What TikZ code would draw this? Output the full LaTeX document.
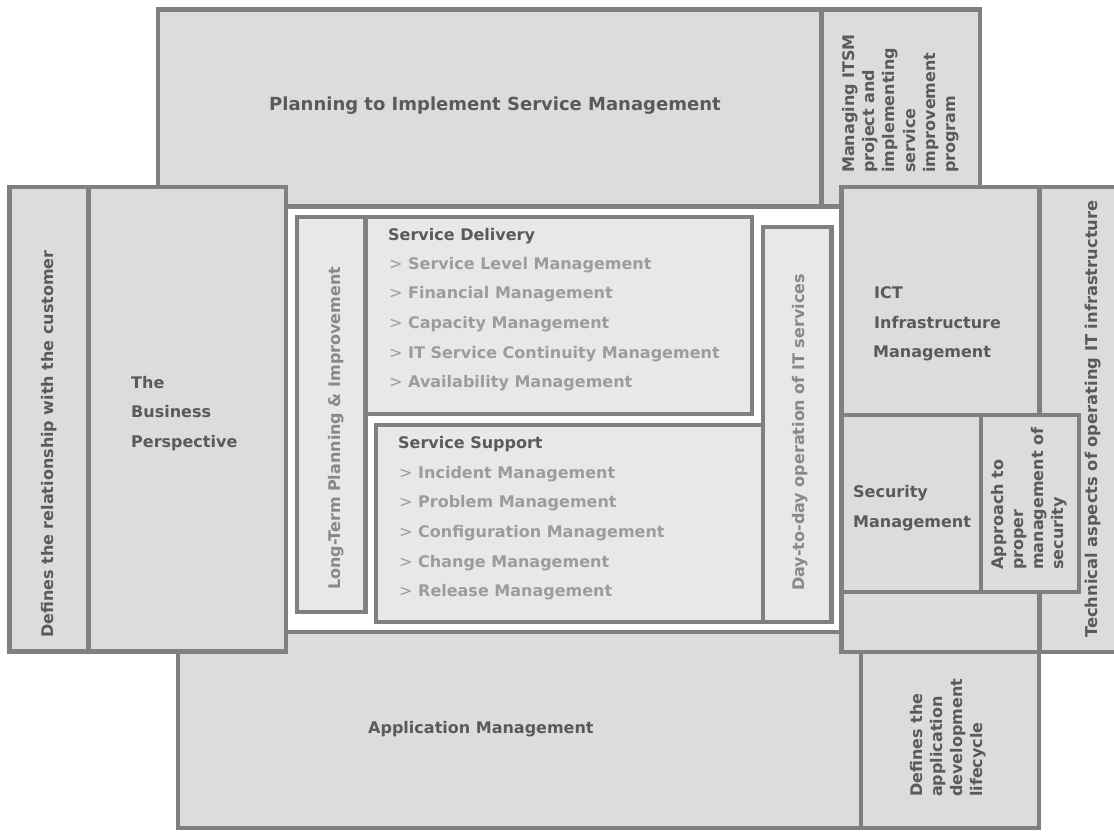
\documentclass[tikz,border=0pt]{standalone}
\usepackage{fontspec}
\setmainfont{DejaVu Sans}
\begin{document}
\definecolor{edge}{HTML}{808080}
\definecolor{outerfill}{HTML}{DCDCDC}
\definecolor{innerfill}{HTML}{E8E8E8}
\definecolor{headtext}{HTML}{5A5A5A}
\definecolor{itemtext}{HTML}{9C9C9C}
\definecolor{sidetext}{HTML}{888888}
\begin{tikzpicture}[x=1pt,y=-1pt,
  outerbox/.style={draw=edge,fill=outerfill,line width=4.5pt},
  innerbox/.style={draw=edge,fill=innerfill,line width=4.5pt},
  lbl/.style={inner sep=0pt,anchor=base west,font=\fontsize{16}{20}\selectfont\bfseries},
  head/.style={lbl,text=headtext},
  item/.style={lbl,text=itemtext},
  side/.style={lbl,text=headtext,rotate=90},
  sidelight/.style={lbl,text=sidetext,rotate=90}]
\useasboundingbox (0,0) rectangle (1114,831);
\clip (0,0) rectangle (1114,831);
\fill[white] (0,0) rectangle (1114,831);

% top band
\draw[outerbox] (158,9.5) rectangle (821.5,206.5);
\draw[outerbox] (821.5,9.5) rectangle (980,206.5);

% bottom band
\draw[outerbox] (178,632) rectangle (861,828);
\draw[outerbox] (861,652) rectangle (1039,828);

% left band
\draw[outerbox] (9.5,187) rectangle (88.5,651.5);
\draw[outerbox] (88.5,187) rectangle (286,651.5);

% right band
\draw[outerbox] (1039.5,187) rectangle (1125,652);
\draw[outerbox] (841.5,187) rectangle (1039.5,415);
\draw[outerbox] (841.5,592) rectangle (1039.5,652);
\draw[outerbox] (841.5,415) rectangle (981,592);
\draw[outerbox] (981,415) rectangle (1079,592);

% core processes
\draw[innerbox] (297,217) rectangle (365.5,612);
\draw[innerbox] (365.5,217) rectangle (752,414);
\draw[innerbox] (376,425) rectangle (763,622);
\draw[innerbox] (763,227) rectangle (831.5,622);

% horizontal labels
\node[head,font=\fontsize{18}{22}\selectfont\bfseries] (plan) at (269,110) {Planning to Implement Service Management};
\node[head] (appm) at (368,733) {Application Management};

\node[head] (bp1) at (131,388) {The};
\node[head] (bp2) at (131,417.5) {Business};
\node[head] (bp3) at (131,447) {Perspective};

\node[head] (ict1) at (874,298) {ICT};
\node[head] (ict2) at (874,328) {Infrastructure};
\node[head] (ict3) at (873,357.5) {Management};

\node[head] (sec1) at (853,497) {Security};
\node[head] (sec2) at (853,527) {Management};

\node[head] (sd) at (388,240) {Service Delivery};
\node[item] (sd1) at (389,269) {{\mdseries >} Service Level Management};
\node[item] (sd2) at (389,298.7) {{\mdseries >} Financial Management};
\node[item] (sd3) at (389,328.4) {{\mdseries >} Capacity Management};
\node[item] (sd4) at (389,358.1) {{\mdseries >} IT Service Continuity Management};
\node[item] (sd5) at (389,387.8) {{\mdseries >} Availability Management};

\node[head] (ss) at (398,448) {Service Support};
\node[item] (ss1) at (399,478) {{\mdseries >} Incident Management};
\node[item] (ss2) at (399,507.7) {{\mdseries >} Problem Management};
\node[item] (ss3) at (399,537.4) {{\mdseries >} Configuration Management};
\node[item] (ss4) at (399,567.1) {{\mdseries >} Change Management};
\node[item] (ss5) at (399,596.8) {{\mdseries >} Release Management};

% vertical labels
\node[side] (cust) at (53,638) {Defines the relationship with the customer};
\node[sidelight] (ltp) at (340,590) {Long-Term Planning \& Improvement};
\node[sidelight] (day) at (804,591) {Day-to-day operation of IT services};
\node[side,font=\fontsize{16.3}{20}\selectfont\bfseries] (tech) at (1097,638) {Technical aspects of operating IT infrastructure};

\node[side] (mg1) at (854,173) {Managing ITSM};
\node[side] (mg2) at (874.3,173) {project and};
\node[side] (mg3) at (894.7,173) {implementing};
\node[side] (mg4) at (915,173) {service};
\node[side] (mg5) at (935.3,173) {improvement};
\node[side] (mg6) at (955.7,173) {program};

\node[side] (ap1) at (1003,570) {Approach to};
\node[side] (ap2) at (1023,570) {proper};
\node[side] (ap3) at (1043,570) {management of};
\node[side] (ap4) at (1063,570) {security};

\node[side] (ad1) at (922,797) {Defines the};
\node[side] (ad2) at (942,797) {application};
\node[side] (ad3) at (962,797) {development};
\node[side] (ad4) at (982,797) {lifecycle};
\end{tikzpicture}
\end{document}
